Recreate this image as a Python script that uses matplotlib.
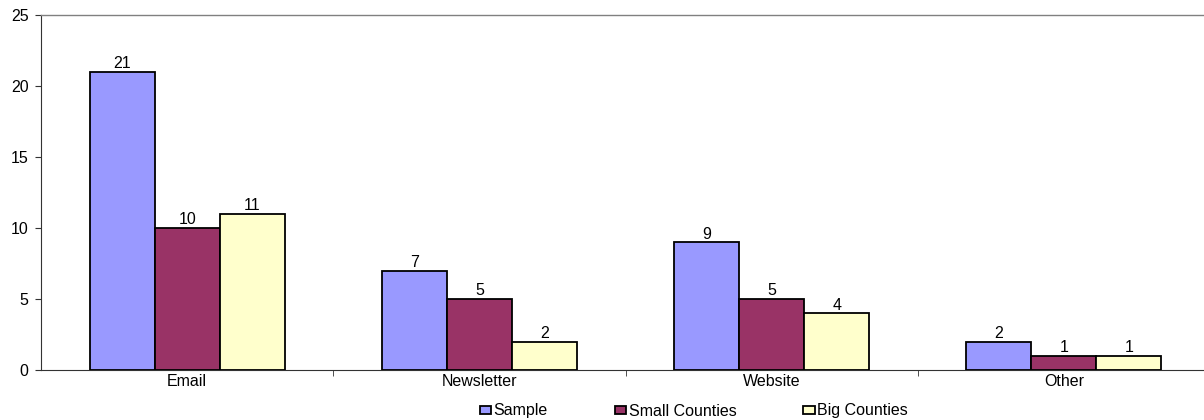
import matplotlib
matplotlib.use("Agg")
import matplotlib.pyplot as plt
import numpy as np

plt.rcParams['font.family'] = ['Liberation Sans', 'DejaVu Sans']

categories = ["Email", "Newsletter", "Website", "Other"]
series_names = ["Sample", "Small Counties", "Big Counties"]
sample = [21, 7, 9, 2]
small_counties = [10, 5, 5, 1]
big_counties = [11, 2, 4, 1]
colors = ["#9999FF", "#993366", "#FFFFCC"]

fig = plt.figure(figsize=(12.04, 4.2), dpi=100)
W, H = 1204, 420
ax = fig.add_axes([41 / W, 50 / H, (1210 - 41) / W, (370 - 15) / H])

x = np.arange(len(categories))
w = 0.2226
fs = 11.5
handles = []
for i, (vals, c, name) in enumerate(zip([sample, small_counties, big_counties], colors, series_names)):
    bars = ax.bar(x + (i - 1) * w, vals, width=w, color=c, edgecolor="black", linewidth=1.3, label=name, zorder=3)
    handles.append(bars)
    for xi, v in zip(x + (i - 1) * w, vals):
        ax.annotate(str(v), (xi, v), xytext=(0, 0.5), textcoords="offset points",
                    ha="center", va="bottom", fontsize=fs, color="black")

ax.set_xlim(-0.5, len(categories) - 0.5)
ax.set_ylim(0, 25)
ax.set_yticks(range(0, 26, 5))
ax.set_xticks(x)
ax.set_xticklabels(categories, fontsize=fs)
ax.set_xticks(np.arange(0.5, len(categories) - 0.5, 1), minor=True)
ax.tick_params(axis="x", which="major", length=0, pad=3)
ax.tick_params(axis="x", which="minor", length=4, direction="out", color="#333333")
ax.tick_params(axis="y", length=4, direction="out", labelsize=fs, color="#333333", pad=5)

ax.spines["right"].set_visible(False)
ax.spines["top"].set_color("#808080")
ax.spines["top"].set_linewidth(1.0)
ax.spines["left"].set_color("#333333")
ax.spines["bottom"].set_color("#333333")

fig.legend(handles=handles, labels=series_names, loc="center", bbox_to_anchor=(694 / W, 1 - 411 / H),
           ncol=3, frameon=False, fontsize=fs, handlelength=0.7, handleheight=0.42,
           handletextpad=0.15, columnspacing=4.2, borderpad=0)

fig.savefig("out.png", dpi=100)
